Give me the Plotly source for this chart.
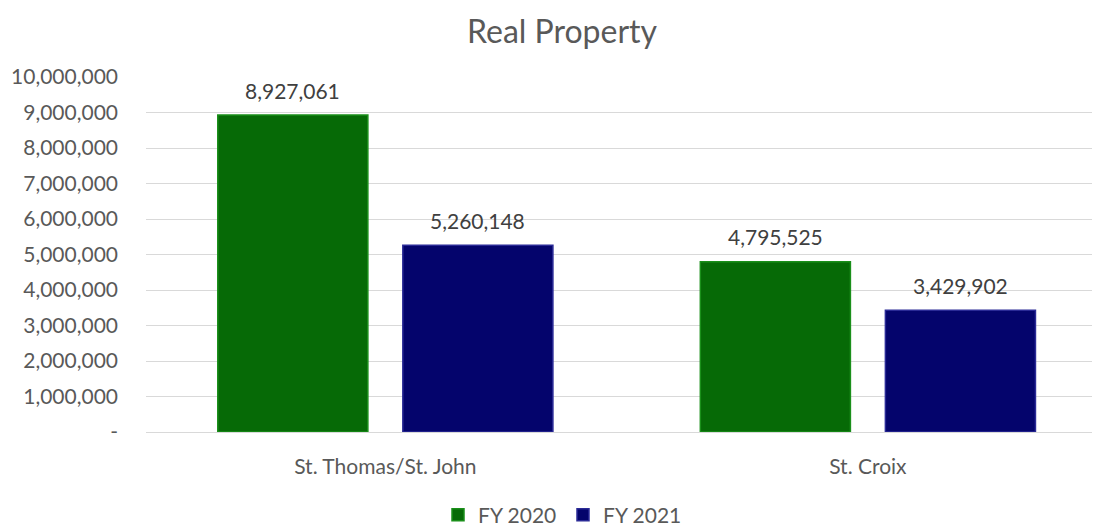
import plotly.graph_objects as go

categories = ["St. Thomas/St. John", "St. Croix"]
series_names = ["FY 2020", "FY 2021"]
fy2020 = [8927061, 4795525]
fy2021 = [5260148, 3429902]
y_tick_vals = [0, 1000000, 2000000, 3000000, 4000000, 5000000, 6000000, 7000000, 8000000, 9000000, 10000000]
y_tick_text = ["-", "1,000,000", "2,000,000", "3,000,000", "4,000,000", "5,000,000",
               "6,000,000", "7,000,000", "8,000,000", "9,000,000", "10,000,000"]
title_text = "Real Property"

colors = ["#066a06", "#04046c"]
edge_colors = ["#1a8f1a", "#2a2a96"]
FONT = "Lato, Open Sans, sans-serif"

OFF = 8  # page body margin
W, H = 1100 - OFF, 529 - OFF
ML, MR, MT, MB = 146 - OFF, 0, 77 - OFF, 529 - 432
XR = [-0.496, 1.481]
BARGAP = 0.233
BARGROUPGAP = 0.189

fig = go.Figure()
for name, vals, c, ec in zip(series_names, [fy2020, fy2021], colors, edge_colors):
    fig.add_trace(go.Bar(
        x=categories, y=vals, name=name,
        marker=dict(color=c, line=dict(color=ec, width=1.5)),
        hoverinfo="x+y+name",
    ))

# data labels above bars
px_per_unit = (W - ML - MR) / (XR[1] - XR[0])
slot_units = (1 - BARGAP) / 2
for j, vals in enumerate([fy2020, fy2021]):
    for cat, v in zip(categories, vals):
        fig.add_annotation(
            x=cat, y=v, text=f"{v:,}", showarrow=False,
            xshift=(j - 0.5) * slot_units * px_per_unit,
            yshift=25, yanchor="middle",
            font=dict(family=FONT, size=21, color="#404040"),
        )

# chart title
plot_h = H - MT - MB
plot_w = W - ML - MR
fig.add_annotation(
    text=title_text, showarrow=False,
    xref="paper", yref="paper",
    x=((562 - OFF) - ML) / plot_w, xanchor="center",
    y=1 + (MT - 1) / plot_h, yanchor="top",
    font=dict(family=FONT, size=32, color="#595959"),
)

fig.update_layout(
    width=W, height=H,
    margin=dict(l=ML, r=MR, t=MT, b=MB, autoexpand=False),
    paper_bgcolor="white", plot_bgcolor="white",
    barmode="group", bargap=BARGAP, bargroupgap=BARGROUPGAP,
    showlegend=True,
    legend=dict(orientation="h", xref="container", yref="container",
                x=(563 - OFF) / W, xanchor="center", y=1 - (515 - OFF) / H, yanchor="middle",
                font=dict(family=FONT, size=21, color="#595959"),
                entrywidth=80, entrywidthmode="pixels", traceorder="normal"),
    font=dict(family=FONT),
)
fig.update_xaxes(range=XR, showgrid=False, showline=False, ticks="",
                 tickfont=dict(family=FONT, size=21, color="#595959"),
                 ticklabelstandoff=20)
fig.update_yaxes(range=[0, 10000000], tickvals=y_tick_vals, ticktext=y_tick_text,
                 showgrid=True, gridcolor="#d9d9d9", gridwidth=1,
                 zeroline=True, zerolinecolor="#d9d9d9", zerolinewidth=1,
                 showline=False, ticks="",
                 tickfont=dict(family=FONT, size=21, color="#595959"),
                 ticklabelstandoff=27)

fig.write_html("out.html")
